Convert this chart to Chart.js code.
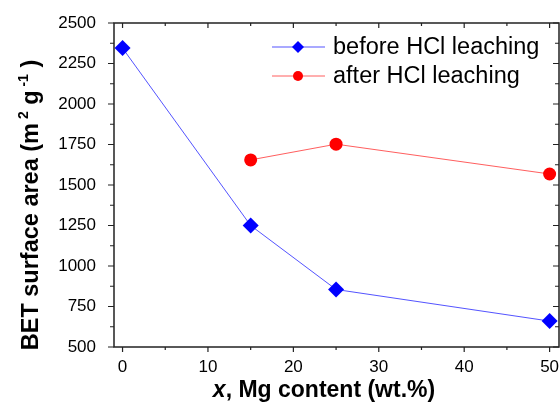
<!DOCTYPE html>
<html>
<head>
<meta charset="utf-8">
<script src="https://cdn.jsdelivr.net/npm/chart.js@4"></script>
<style>
  html, body { margin: 0; padding: 0; background: #fff; overflow: hidden; }
  #wrap { width: 580px; height: 403px; }
</style>
</head>
<body>
<div id="wrap"><canvas id="myChart" width="580" height="403"></canvas></div>
<script>
'use strict';
// data
const beforeLabel = 'before HCl leaching';
const afterLabel = 'after HCl leaching';
const beforeX = [0, 15, 25, 50];
const beforeY = [2345, 1250, 855, 660];
const afterX = [15, 25, 50];
const afterY = [1655, 1752, 1568];
const xTicks = [0, 10, 20, 30, 40, 50];
const xMinor = [5, 15, 25, 35, 45];
const yTicks = [500, 750, 1000, 1250, 1500, 1750, 2000, 2250, 2500];
const yMinor = [625, 875, 1125, 1375, 1625, 1875, 2125, 2375];

const FONT = '"Liberation Sans", Arial, sans-serif';
const AXIS = '#222';

function toPoints(xs, ys) {
  return xs.map((x, i) => ({ x: x, y: ys[i] }));
}

// frame, ticks, titles and legend
const decor = {
  id: 'decor',
  afterDraw(chart) {
    const ctx = chart.ctx;
    const ca = chart.chartArea;
    const xs = chart.scales.x;
    const ys = chart.scales.y;
    ctx.save();
    ctx.strokeStyle = AXIS;
    ctx.lineWidth = 1.5;
    ctx.strokeRect(ca.left, ca.top, ca.right - ca.left, ca.bottom - ca.top);
    ctx.lineWidth = 1.2;
    ctx.beginPath();
    const xt = (v, len) => {
      const p = xs.getPixelForValue(v);
      ctx.moveTo(p, ca.bottom); ctx.lineTo(p, ca.bottom + len);
      ctx.moveTo(p, ca.top); ctx.lineTo(p, ca.top + len);
    };
    const yt = (v, len) => {
      const p = ys.getPixelForValue(v);
      ctx.moveTo(ca.left, p); ctx.lineTo(ca.left - len, p);
      ctx.moveTo(ca.right, p); ctx.lineTo(ca.right - len, p);
    };
    xTicks.forEach(v => xt(v, 5));
    xMinor.forEach(v => xt(v, 3));
    yTicks.forEach(v => yt(v, 6));
    yMinor.forEach(v => yt(v, 4));
    ctx.stroke();

    // x title
    ctx.fillStyle = '#000';
    ctx.textBaseline = 'alphabetic';
    const a = 'x';
    const b = ', Mg content (wt.%)';
    ctx.font = 'italic bold 23px ' + FONT;
    const wa = ctx.measureText(a).width;
    ctx.font = 'bold 23px ' + FONT;
    const wb = ctx.measureText(b).width;
    let sx = 324 - (wa + wb) / 2;
    ctx.font = 'italic bold 23px ' + FONT;
    ctx.fillText(a, sx, 397);
    ctx.font = 'bold 23px ' + FONT;
    ctx.fillText(b, sx + wa, 397);

    // y title with superscripts
    const parts = [
      ['BET surface area (m', 23.5, 0],
      [' 2', 14, -10],
      [' g', 23.5, 0],
      [' -1', 14, -10],
      [' )', 23.5, 0]
    ];
    let total = 0;
    parts.forEach(p => { ctx.font = 'bold ' + p[1] + 'px ' + FONT; total += ctx.measureText(p[0]).width; });
    ctx.translate(38, 205);
    ctx.rotate(-Math.PI / 2);
    let px = -total / 2;
    parts.forEach(p => {
      ctx.font = 'bold ' + p[1] + 'px ' + FONT;
      ctx.fillText(p[0], px, p[2]);
      px += ctx.measureText(p[0]).width;
    });
    ctx.restore();

    // legend
    ctx.save();
    chart.data.datasets.forEach((ds, i) => {
      const y = ca.top + 24 + i * 29;
      const x0 = ca.left + 158;
      ctx.strokeStyle = ds.borderColor;
      ctx.lineWidth = 1;
      ctx.beginPath();
      ctx.moveTo(x0, y); ctx.lineTo(x0 + 53, y);
      ctx.stroke();
      ctx.fillStyle = ds.pointBackgroundColor;
      ctx.beginPath();
      const cx = x0 + 26;
      if (ds.pointStyle === 'rectRot') {
        ctx.moveTo(cx, y - 6); ctx.lineTo(cx + 6, y); ctx.lineTo(cx, y + 6); ctx.lineTo(cx - 6, y);
        ctx.closePath();
      } else {
        ctx.arc(cx, y, 5, 0, Math.PI * 2);
      }
      ctx.fill();
      ctx.fillStyle = '#000';
      ctx.font = '23.5px ' + FONT;
      ctx.textBaseline = 'middle';
      ctx.fillText(ds.label, x0 + 61, y + 1);
    });
    ctx.restore();
  }
};

const data = {
  datasets: [{
    label: beforeLabel,
    data: toPoints(beforeX, beforeY),
    borderColor: 'rgba(40, 40, 255, 0.8)',
    borderWidth: 1,
    pointStyle: 'rectRot',
    pointRadius: 8,
    pointBackgroundColor: '#0000ff',
    pointBorderColor: '#0000ff',
    pointBorderWidth: 0,
    clip: false
  }, {
    label: afterLabel,
    data: toPoints(afterX, afterY),
    borderColor: 'rgba(255, 40, 40, 0.75)',
    borderWidth: 1,
    pointStyle: 'circle',
    pointRadius: 6.5,
    pointBackgroundColor: '#ff0000',
    pointBorderColor: '#ff0000',
    pointBorderWidth: 0,
    clip: false
  }]
};

const config = {
  type: 'line',
  data: data,
  options: {
    responsive: false,
    animation: false,
    events: [],
    layout: { padding: { left: 0, top: 23, right: 21, bottom: 0 } },
    plugins: { legend: { display: false }, tooltip: { enabled: false } },
    scales: {
      x: {
        type: 'linear',
        min: -1,
        max: 51.1,
        grid: { display: false },
        border: { display: false },
        afterBuildTicks: s => { s.ticks = xTicks.map(v => ({ value: v })); },
        afterFit: s => { s.height = 56; },
        ticks: {
          color: '#000',
          font: { family: FONT, size: 17 },
          padding: 2,
          maxRotation: 0,
          callback: v => String(v)
        }
      },
      y: {
        min: 500,
        max: 2500,
        grid: { display: false },
        border: { display: false },
        afterBuildTicks: s => { s.ticks = yTicks.map(v => ({ value: v })); },
        afterFit: s => { s.width = 114; },
        ticks: {
          color: '#000',
          font: { family: FONT, size: 17 },
          padding: 10,
          callback: v => String(v)
        }
      }
    }
  },
  plugins: [decor]
};

const myChart = new Chart(document.getElementById('myChart'), config);
</script>
</body>
</html>
